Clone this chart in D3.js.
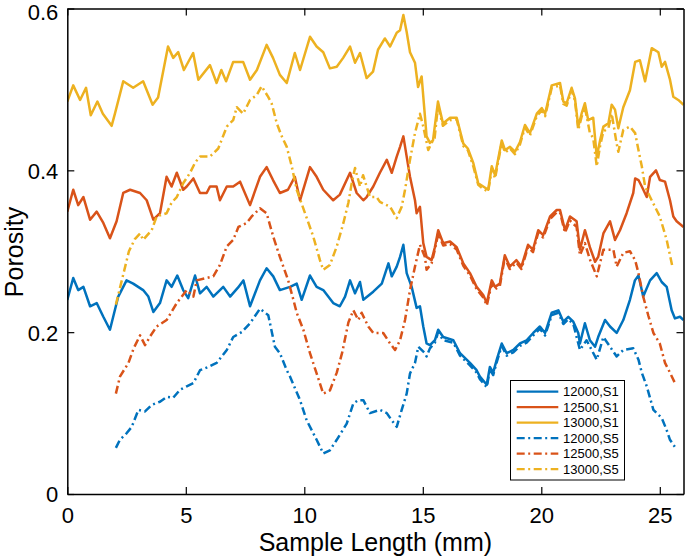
<!DOCTYPE html>
<html><head><meta charset="utf-8">
<script src="https://cdn.jsdelivr.net/npm/d3@7/dist/d3.min.js"></script>
<style>body{margin:0;background:#fff}svg{display:block}text{font-family:"Liberation Sans",Arial,Helvetica,sans-serif}</style>
</head><body>
<script>
// ---- data (x in mm, porosity) ----
const seriesNames = ["12000,S1","12500,S1","13000,S1","12000,S5","12500,S5","13000,S5"];
const xTicks = [0,5,10,15,20,25];
const yTicks = [0,0.2,0.4,0.6];
const xTickLabels = ["0","5","10","15","20","25"];
const yTickLabels = ["0","0.2","0.4","0.6"];

const s1_12000 = [[0,0.24],[0.25,0.267],[0.46,0.252],[0.68,0.256],[0.96,0.232],[1.24,0.236],[1.52,0.219],[1.8,0.203],[2.15,0.244],[2.5,0.264],[2.78,0.26],[3.2,0.252],[3.42,0.244],[3.63,0.225],[3.91,0.236],[4.19,0.264],[4.4,0.256],[4.64,0.27],[4.89,0.252],[5.1,0.242],[5.39,0.27],[5.6,0.248],[5.88,0.256],[6.16,0.244],[6.58,0.256],[6.87,0.244],[7.2,0.255],[7.43,0.264],[7.71,0.232],[8.13,0.264],[8.41,0.279],[8.69,0.269],[8.97,0.252],[9.4,0.256],[9.68,0.26],[9.89,0.24],[10.24,0.27],[10.52,0.256],[10.8,0.252],[11.22,0.236],[11.5,0.232],[11.72,0.244],[11.93,0.264],[12.14,0.248],[12.35,0.262],[12.49,0.24],[12.91,0.25],[13.27,0.26],[13.55,0.285],[13.69,0.269],[13.9,0.281],[14.04,0.293],[14.18,0.308],[14.32,0.273],[14.53,0.256],[14.74,0.23],[14.88,0.232],[15.02,0.207],[15.16,0.186],[15.3,0.184],[15.51,0.19],[15.65,0.203],[15.86,0.194],[16.29,0.19],[16.57,0.174],[16.99,0.162],[17.27,0.153],[17.41,0.145],[17.7,0.135],[17.83,0.157],[17.97,0.15],[18.12,0.166],[18.33,0.186],[18.54,0.174],[18.82,0.178],[19.1,0.186],[19.38,0.19],[19.66,0.199],[19.94,0.207],[20.16,0.199],[20.44,0.224],[20.72,0.227],[20.93,0.213],[21.14,0.219],[21.35,0.213],[21.56,0.199],[21.63,0.186],[21.84,0.211],[22.05,0.19],[22.27,0.182],[22.4,0.194],[22.69,0.215],[22.9,0.207],[23.18,0.199],[23.46,0.215],[23.74,0.24],[23.95,0.264],[24.1,0.27],[24.3,0.244],[24.59,0.264],[24.87,0.273],[25.08,0.262],[25.29,0.256],[25.5,0.227],[25.64,0.217],[25.85,0.219],[26,0.215]];

const s1_12500 = [[0,0.349],[0.25,0.376],[0.46,0.357],[0.68,0.367],[0.96,0.339],[1.24,0.349],[1.52,0.335],[1.8,0.316],[2.08,0.337],[2.36,0.372],[2.65,0.376],[3.07,0.372],[3.35,0.363],[3.63,0.339],[3.91,0.347],[4.19,0.392],[4.4,0.38],[4.62,0.397],[4.89,0.376],[5.04,0.38],[5.32,0.39],[5.6,0.372],[5.88,0.372],[6.02,0.38],[6.3,0.38],[6.44,0.363],[6.73,0.38],[7.0,0.38],[7.29,0.386],[7.71,0.357],[8.13,0.392],[8.41,0.404],[8.68,0.388],[8.97,0.372],[9.31,0.376],[9.6,0.392],[9.82,0.363],[10.24,0.404],[10.52,0.392],[10.8,0.376],[11.22,0.363],[11.5,0.37],[11.93,0.397],[12.21,0.372],[12.49,0.363],[12.63,0.367],[12.91,0.38],[13.19,0.397],[13.48,0.413],[13.69,0.397],[13.9,0.417],[14.04,0.429],[14.18,0.442],[14.32,0.417],[14.46,0.392],[14.67,0.363],[14.74,0.347],[14.88,0.355],[15.02,0.31],[15.16,0.293],[15.37,0.289],[15.51,0.305],[15.65,0.326],[15.86,0.31],[16.15,0.312],[16.43,0.305],[16.71,0.285],[16.99,0.273],[17.27,0.256],[17.55,0.246],[17.7,0.236],[17.91,0.264],[18.05,0.256],[18.25,0.26],[18.46,0.295],[18.67,0.281],[18.95,0.289],[19.16,0.281],[19.44,0.308],[19.65,0.302],[19.87,0.326],[20.08,0.32],[20.37,0.343],[20.65,0.351],[20.79,0.351],[21.0,0.326],[21.21,0.343],[21.49,0.337],[21.63,0.302],[21.84,0.326],[22.05,0.305],[22.27,0.287],[22.4,0.293],[22.62,0.322],[22.9,0.337],[23.11,0.314],[23.32,0.326],[23.6,0.347],[23.88,0.372],[23.96,0.39],[24.1,0.388],[24.24,0.38],[24.45,0.367],[24.59,0.392],[24.84,0.4],[25.0,0.388],[25.22,0.386],[25.43,0.363],[25.57,0.343],[25.71,0.337],[26,0.33]];

const s1_13000 = [[0,0.485],[0.25,0.505],[0.54,0.487],[0.79,0.502],[0.99,0.468],[1.27,0.485],[1.5,0.47],[1.87,0.455],[2.01,0.47],[2.36,0.51],[2.78,0.502],[3.2,0.51],[3.6,0.481],[3.83,0.49],[4.25,0.553],[4.47,0.539],[4.68,0.546],[4.92,0.524],[5.31,0.545],[5.53,0.512],[6.02,0.53],[6.3,0.508],[6.5,0.524],[6.7,0.51],[7.0,0.534],[7.42,0.534],[7.71,0.512],[8.0,0.524],[8.41,0.555],[8.68,0.539],[8.97,0.518],[9.26,0.508],[9.6,0.545],[9.82,0.524],[10.24,0.565],[10.52,0.553],[10.8,0.546],[11.08,0.526],[11.37,0.528],[11.64,0.539],[11.93,0.553],[12.14,0.533],[12.35,0.545],[12.63,0.514],[12.9,0.522],[13.11,0.549],[13.4,0.563],[13.62,0.553],[13.9,0.57],[14.04,0.573],[14.18,0.592],[14.32,0.571],[14.46,0.546],[14.67,0.533],[14.8,0.503],[14.95,0.516],[15.16,0.442],[15.3,0.434],[15.43,0.437],[15.64,0.485],[15.85,0.458],[16.15,0.465],[16.43,0.465],[16.71,0.433],[16.9,0.427],[17.13,0.409],[17.34,0.384],[17.55,0.38],[17.76,0.376],[17.91,0.405],[18.05,0.394],[18.33,0.437],[18.47,0.425],[18.68,0.429],[18.89,0.423],[19.1,0.435],[19.31,0.456],[19.52,0.446],[19.81,0.47],[20.02,0.477],[20.16,0.47],[20.44,0.505],[20.79,0.508],[20.93,0.485],[21.07,0.483],[21.28,0.502],[21.42,0.489],[21.56,0.454],[21.7,0.47],[21.84,0.483],[21.98,0.462],[22.19,0.465],[22.34,0.417],[22.48,0.437],[22.62,0.454],[22.83,0.458],[22.97,0.481],[23.11,0.475],[23.25,0.452],[23.46,0.478],[23.74,0.499],[23.96,0.534],[24.16,0.536],[24.38,0.51],[24.66,0.551],[24.94,0.546],[25.08,0.528],[25.22,0.534],[25.43,0.512],[25.57,0.491],[25.78,0.487],[26,0.481]];

const s5_12000 = [[2.05,0.057],[2.22,0.067],[2.5,0.075],[2.72,0.083],[3.0,0.104],[3.28,0.102],[3.56,0.11],[3.91,0.114],[4.19,0.12],[4.47,0.119],[4.76,0.129],[5.04,0.133],[5.32,0.137],[5.46,0.145],[5.6,0.153],[5.95,0.157],[6.3,0.162],[6.73,0.178],[7.0,0.194],[7.36,0.2],[7.71,0.211],[8.13,0.229],[8.48,0.221],[8.76,0.182],[8.97,0.174],[9.26,0.153],[9.4,0.145],[9.82,0.116],[10.1,0.091],[10.52,0.067],[10.8,0.05],[11.08,0.054],[11.37,0.067],[11.79,0.087],[12.07,0.112],[12.28,0.116],[12.49,0.116],[12.77,0.1],[13.19,0.104],[13.48,0.1],[13.69,0.091],[13.9,0.083],[14.11,0.104],[14.32,0.124],[14.46,0.149],[14.67,0.162],[14.81,0.182],[15.09,0.174],[15.16,0.17],[15.3,0.18],[15.51,0.187],[15.65,0.2],[15.86,0.19],[16.29,0.187],[16.57,0.171],[16.99,0.159],[17.27,0.15],[17.41,0.142],[17.7,0.132],[17.83,0.154],[17.97,0.147],[18.12,0.163],[18.33,0.183],[18.54,0.171],[18.82,0.175],[19.1,0.183],[19.38,0.187],[19.66,0.196],[19.94,0.204],[20.16,0.196],[20.44,0.221],[20.72,0.224],[20.93,0.21],[21.14,0.216],[21.35,0.21],[21.63,0.178],[21.91,0.19],[22.34,0.166],[22.62,0.194],[23.18,0.17],[23.46,0.178],[23.88,0.18],[24.1,0.166],[24.24,0.15],[24.45,0.133],[24.73,0.104],[25.08,0.094],[25.29,0.079],[25.43,0.067],[25.64,0.058]];

const s5_12500 = [[2.05,0.124],[2.22,0.145],[2.58,0.162],[2.8,0.18],[3.07,0.196],[3.28,0.184],[3.5,0.195],[3.77,0.207],[4.19,0.215],[4.62,0.236],[5.04,0.252],[5.32,0.244],[5.46,0.264],[5.88,0.267],[6.16,0.269],[6.44,0.283],[6.73,0.306],[7.0,0.314],[7.22,0.33],[7.57,0.335],[7.78,0.343],[8.13,0.353],[8.41,0.347],[8.69,0.318],[8.97,0.293],[9.32,0.264],[9.54,0.24],[9.68,0.224],[9.96,0.203],[10.24,0.174],[10.52,0.149],[10.8,0.124],[11.08,0.128],[11.37,0.15],[11.6,0.175],[11.86,0.212],[12.07,0.227],[12.28,0.215],[12.42,0.224],[12.7,0.207],[12.91,0.199],[13.33,0.199],[13.62,0.186],[13.83,0.178],[14.04,0.19],[14.25,0.215],[14.46,0.252],[14.67,0.281],[14.88,0.308],[15.09,0.293],[15.16,0.277],[15.37,0.285],[15.51,0.302],[15.65,0.322],[15.86,0.307],[16.15,0.309],[16.43,0.302],[16.71,0.282],[16.99,0.27],[17.27,0.253],[17.55,0.243],[17.7,0.233],[17.91,0.26],[18.05,0.253],[18.25,0.257],[18.46,0.292],[18.67,0.278],[18.95,0.286],[19.16,0.278],[19.44,0.305],[19.65,0.299],[19.87,0.323],[20.08,0.317],[20.37,0.34],[20.65,0.348],[20.79,0.348],[21.0,0.323],[21.21,0.338],[21.49,0.33],[21.63,0.295],[21.84,0.31],[22.05,0.29],[22.34,0.269],[22.62,0.302],[23.04,0.302],[23.18,0.281],[23.46,0.298],[23.74,0.3],[23.96,0.289],[24.1,0.273],[24.3,0.244],[24.52,0.22],[24.73,0.199],[25.0,0.186],[25.22,0.162],[25.43,0.15],[25.64,0.137]];

const s5_13000 = [[2.05,0.234],[2.3,0.264],[2.6,0.3],[2.85,0.315],[3.07,0.322],[3.2,0.314],[3.56,0.326],[3.77,0.343],[4.19,0.347],[4.4,0.36],[4.62,0.367],[4.89,0.384],[5.18,0.397],[5.4,0.41],[5.6,0.417],[6.02,0.417],[6.37,0.427],[6.73,0.454],[6.86,0.458],[7.0,0.462],[7.15,0.478],[7.42,0.47],[7.71,0.487],[7.99,0.493],[8.2,0.504],[8.47,0.491],[8.62,0.483],[8.84,0.458],[9.05,0.442],[9.26,0.429],[9.47,0.405],[9.68,0.376],[10.03,0.347],[10.38,0.318],[10.66,0.289],[10.8,0.277],[11.08,0.283],[11.37,0.306],[11.65,0.335],[11.86,0.36],[12.0,0.384],[12.14,0.403],[12.35,0.38],[12.48,0.394],[12.77,0.367],[13.05,0.367],[13.19,0.361],[13.62,0.355],[13.9,0.341],[14.11,0.355],[14.25,0.376],[14.46,0.413],[14.67,0.446],[14.88,0.47],[15.02,0.454],[15.23,0.425],[15.37,0.434],[15.5,0.44],[15.64,0.48],[15.85,0.455],[16.15,0.462],[16.43,0.463],[16.71,0.43],[16.9,0.425],[17.13,0.405],[17.34,0.382],[17.55,0.377],[17.76,0.374],[17.91,0.402],[18.05,0.39],[18.33,0.434],[18.47,0.422],[18.68,0.427],[18.89,0.42],[19.1,0.432],[19.31,0.453],[19.52,0.443],[19.81,0.467],[20.02,0.474],[20.16,0.467],[20.44,0.502],[20.79,0.505],[20.93,0.482],[21.07,0.48],[21.28,0.499],[21.42,0.486],[21.56,0.45],[21.7,0.466],[21.84,0.478],[22.05,0.446],[22.19,0.44],[22.34,0.405],[22.48,0.43],[22.62,0.448],[22.83,0.452],[22.97,0.47],[23.18,0.433],[23.25,0.423],[23.46,0.45],[23.74,0.454],[23.96,0.446],[24.1,0.425],[24.24,0.405],[24.38,0.38],[24.59,0.367],[25.0,0.343],[25.29,0.314],[25.54,0.28]];

const seriesData = [s1_12000, s1_12500, s1_13000, s5_12000, s5_12500, s5_13000];
const seriesColors = ["#0072BD","#D95319","#EDB120","#0072BD","#D95319","#EDB120"];
const seriesDashed = [false,false,false,true,true,true];

// ---- layout ----
const W = 685, H = 558;
const L = 67.3, R = 683.5, T = 8.5, B = 494;
const dash = "8,3.5,2,3.5";

const svg = d3.select("body").append("svg").attr("width", W).attr("height", H);
const x = d3.scaleLinear().domain([0, 26]).range([L, R]);
const y = d3.scaleLinear().domain([0, 0.6]).range([B, T]);

svg.append("clipPath").attr("id","c").append("rect")
  .attr("x", L).attr("y", T).attr("width", R - L).attr("height", B - T);

const line = d3.line().x(d => x(d[0])).y(d => y(d[1]));
const g = svg.append("g").attr("clip-path","url(#c)");
seriesData.forEach((s, i) => {
  g.append("path").datum(s).attr("d", line)
    .attr("fill","none").attr("stroke", seriesColors[i])
    .attr("stroke-width", 2.5).attr("stroke-linejoin","round")
    .attr("stroke-dasharray", seriesDashed[i] ? dash : null);
});

// axes (box with inward ticks)
const tl = 7;
const axB = svg.append("g").attr("transform",`translate(0,${B})`)
  .call(d3.axisBottom(x).tickValues(xTicks).tickFormat((d,i)=>xTickLabels[i]).tickSizeInner(-tl).tickSizeOuter(0).tickPadding(13));
const axT = svg.append("g").attr("transform",`translate(0,${T})`)
  .call(d3.axisTop(x).tickValues(xTicks).tickFormat("").tickSizeInner(-tl).tickSizeOuter(0));
const axL = svg.append("g").attr("transform",`translate(${L},0)`)
  .call(d3.axisLeft(y).tickValues(yTicks).tickFormat((d,i)=>yTickLabels[i]).tickSizeInner(-tl).tickSizeOuter(0).tickPadding(9));
const axR = svg.append("g").attr("transform",`translate(${R},0)`)
  .call(d3.axisRight(y).tickValues(yTicks).tickFormat("").tickSizeInner(-tl).tickSizeOuter(0));
[axB, axT, axL, axR].forEach(a => {
  a.select(".domain").attr("stroke","#000").attr("stroke-width",1.5);
  a.selectAll(".tick line").attr("stroke","#000").attr("stroke-width",1.2);
  a.selectAll("text").attr("font-size", 22).attr("fill","#000")
    .style("font-family",'"Liberation Sans",Arial,sans-serif');
});
axB.selectAll(".tick text").attr("dy", null).attr("y", 29);
axL.selectAll(".tick text").attr("dy", "0.36em");
// keep the top label's box inside the page
axL.selectAll(".tick").filter(d => d === 0.6).select("text").attr("dy", "0.52em");

// axis titles
svg.append("text").attr("x", (L + R) / 2).attr("y", 551).attr("text-anchor","middle")
  .attr("font-size", 25).text("Sample Length (mm)");
svg.append("text").attr("transform", `translate(23,252) rotate(-90)`).attr("text-anchor","middle")
  .attr("font-size", 25).text("Porosity");

// legend
const lg = svg.append("g");
lg.append("rect").attr("x", 510.5).attr("y", 380.5).attr("width", 114).attr("height", 99.5)
  .attr("fill","#fff").attr("stroke","#000").attr("stroke-width",1);
seriesNames.forEach((n, i) => {
  const yy = 391.7 + i * 15.5;
  lg.append("line").attr("x1", 516.7).attr("x2", 558.3).attr("y1", yy).attr("y2", yy)
    .attr("stroke", seriesColors[i]).attr("stroke-width", 2.2)
    .attr("stroke-dasharray", seriesDashed[i] ? dash : null);
  lg.append("text").attr("x", 563).attr("y", yy).attr("dy","0.36em")
    .attr("font-size", 13).text(n);
});
</script>
</body></html>
